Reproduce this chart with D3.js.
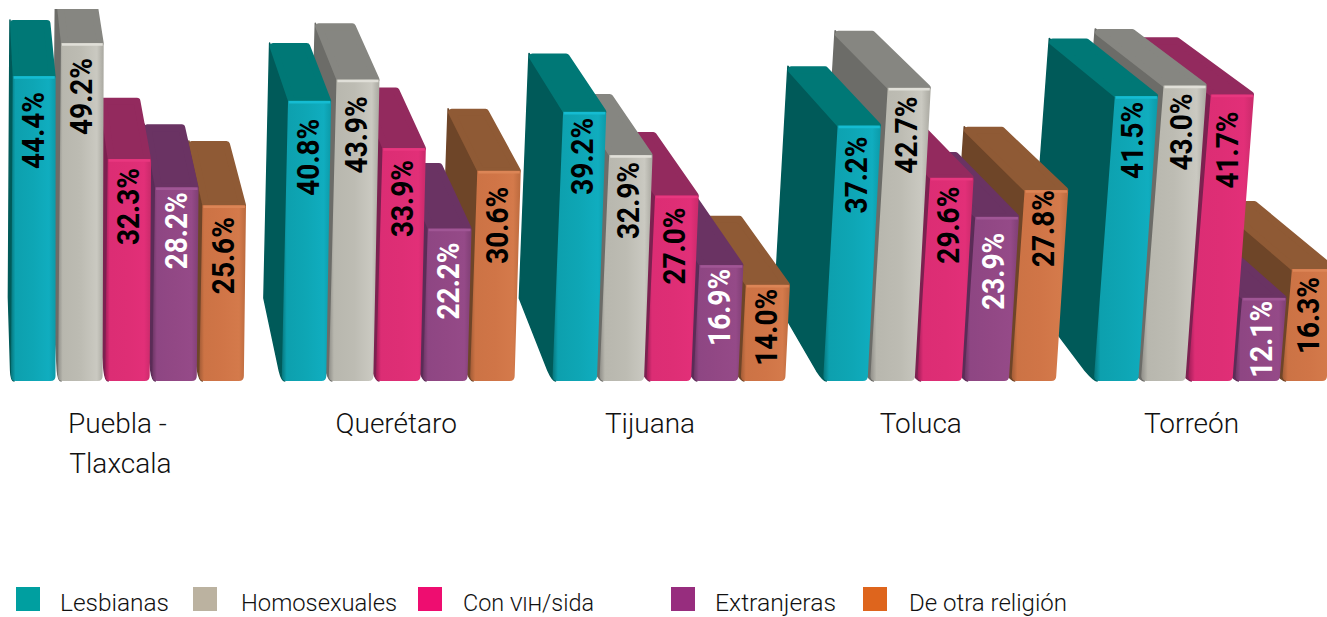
<!DOCTYPE html>
<html><head><meta charset="utf-8">
<script src="https://cdnjs.cloudflare.com/ajax/libs/d3/7.8.5/d3.min.js"></script>
<style>html,body{margin:0;padding:0;background:#fff}svg{display:block}text{font-family:Roboto,sans-serif}</style>
</head><body><svg id="c" width="1327" height="617"></svg>
<script>
// ---- data ----
const categories = ["Puebla - Tlaxcala","Querétaro","Tijuana","Toluca","Torreón"];
const series = ["Lesbianas","Homosexuales","Con vih/sida","Extranjeras","De otra religión"];
const lesbianas    = [44.4,40.8,39.2,37.2,41.5];
const homosexuales = [49.2,43.9,32.9,42.7,43.0];
const conVih       = [32.3,33.9,27.0,29.6,41.7];
const extranjeras  = [28.2,22.2,16.9,23.9,12.1];
const otraReligion = [25.6,30.6,14.0,27.8,16.3];
const seriesValues = [lesbianas,homosexuales,conVih,extranjeras,otraReligion];

// ---- styles / layout ----
const legendCols = ["#009fa0","#bbb2a0","#ee0d70","#972d7e","#de651d"];
const frontStops = [
 ["#07767c","#0da0ae","#0ea6b5","#10adbf","#0c9aa8"],
 ["#8f8e88","#b8b7ae","#bdbcb3","#cac9c1","#a9a8a0"],
 ["#a01d58","#dc2d74","#de2e75","#e22f78","#c92a6a"],
 ["#6c3564","#8e4683","#924885","#954a88","#7f3f74"],
 ["#a35c36","#cc7345","#d07547","#d47a4b","#bb6a3e"]];
const topCols  = ["#007876","#868681","#932a5e","#6a3363","#8f5a35"];
const sideCols = ["#005a59","#6c6c68","#7c2150","#5b2c57","#6e4528"];
const rimCols  = ["#15bcd2","#e0dfd8","#e8377f","#a05695","#dc8556"];
const labelCols= ["#000","#000","#000","#fff","#000"];
const labelGap = [[16,15,9,5,12],[18,17,12,14,16],[6,7,12,4,4],[11,9,9,16,0],[6,8,17,3,8]];
const catNudge = [-10,-2,-19,-19,-19];

const svg = d3.select("#c");
const defs = svg.append("defs");
defs.append("clipPath").attr("id","clip").append("rect").attr("x",0).attr("y",9).attr("width",1327).attr("height",600);
frontStops.forEach((s,i)=>{
  const g = defs.append("linearGradient").attr("id","f"+i);
  [0,.1,.5,.85,1].forEach((o,k)=>g.append("stop").attr("offset",o).attr("stop-color",s[k]));
});

const y0 = 381;
const y = d3.scaleLinear().domain([0,50]).range([y0,y0-343.5]);
const xGroup = d3.scaleBand().domain(categories).range([11,1327]).paddingInner(0.14).paddingOuter(0);
const xBar = d3.scaleBand().domain(series).range([0,xGroup.bandwidth()]).paddingInner(0.055).paddingOuter(0);

// perspective helpers
const lean = (u,py)=> u + (u-50)*(y0-py)*6.2e-5;      // front face edge at a height
const narrow = py => (y0-py)*0.008;                    // the bar narrows a little with height
const depthX = px => -2 - 0.057*px;
const depthY = py => 51.3 + 0.0625*py;
const back = (px,py)=> [px+depthX(px), py-depthY(py)];
const mix = (a,b,k)=> [a[0]+(b[0]-a[0])*k, a[1]+(b[1]-a[1])*k];

const root = svg.append("g").attr("clip-path","url(#clip)");

// painter's order: right to left
for (let c=categories.length-1;c>=0;c--){
  for (let s=series.length-1;s>=0;s--){
    const v = seriesValues[s][c];
    const u0 = xGroup(categories[c])+xBar(series[s]);
    const u1 = u0+xBar.bandwidth();
    const t = y(v);
    const fl=[lean(u0,t)+narrow(t),t], fr=[lean(u1,t),t];
    const bl=back(...fl), br=back(...fr);
    const bot=[u0,y0], bb=back(u0,y0);
    const p1=mix(bot,bb,0.14), p2=mix(bb,bl,0.03);
    const g = root.append("g");
    // side face
    g.append("path").attr("fill",sideCols[s]).attr("stroke",sideCols[s]).attr("stroke-width",1.5).attr("stroke-linejoin","round")
      .attr("d",`M${bl}L${fl}L${bot[0]+3},${y0}Q${bot[0]},${y0} ${p1}L${p2[0]},${p2[1]}Z`);
    // top face
    g.append("path").attr("fill",topCols[s]).attr("stroke",topCols[s]).attr("stroke-width",7).attr("stroke-linejoin","round")
      .attr("d",`M${bl[0]+3.5},${bl[1]+3.5}L${br[0]-3.5},${br[1]+3.5}L${fr[0]-3.5},${fr[1]}L${fl[0]+3.5},${fl[1]}Z`);
    // front face
    const r=5;
    g.append("path").attr("fill",`url(#f${s})`)
      .attr("d",`M${fl}L${fr[0]-1},${t}Q${fr[0]},${t} ${fr[0]},${t+2}L${u1},${y0-r}Q${u1},${y0} ${u1-r},${y0}L${u0+r},${y0}Q${u0},${y0} ${u0},${y0-r}Z`);
    // rim
    g.append("path").attr("fill","none").attr("stroke",rimCols[s]).attr("stroke-width",2.5)
      .attr("d",`M${fl[0]+1},${t+1.5}L${fr[0]-1},${t+1.5}`);
    // value label
    const gap = labelGap[c][s], len = 77;
    const ly = t+gap+len;
    const lx = Math.min(1308,(lean(u0,ly-len/2)+lean(u1,ly-len/2))/2);
    g.append("text").attr("transform",`translate(${lx},${ly}) rotate(-90)`)
      .attr("dy","0.36em").attr("font-size",30.5).attr("font-weight",700).attr("fill",labelCols[s])
      .attr("textLength",len).attr("lengthAdjust","spacingAndGlyphs")
      .text(v.toFixed(1)+"%");
  }
}

// category labels
categories.forEach((cat,i)=>{
  const cx = xGroup(cat)+xGroup.bandwidth()/2+catNudge[i];
  const t = svg.append("text").attr("text-anchor","middle").attr("font-size",28).attr("font-weight",300).attr("fill","#111");
  if (cat==="Puebla - Tlaxcala"){
    t.append("tspan").attr("x",cx).attr("y",433).text("Puebla -");
    t.append("tspan").attr("x",cx+3).attr("y",473).text("Tlaxcala");
  } else t.attr("x",cx).attr("y",433).text(cat);
});

// legend
const legX = [16,193,418,671,863];
const legTX= [60,241,463,715,909];
const legW = [109,156,131,121,158];
series.forEach((n,i)=>{
  svg.append("rect").attr("x",legX[i]).attr("y",587).attr("width",24).attr("height",24).attr("fill",legendCols[i]);
  const t = svg.append("text").attr("x",legTX[i]).attr("y",611).attr("font-size",24).attr("font-weight",300).attr("fill","#111")
    .attr("textLength",legW[i]).attr("lengthAdjust","spacingAndGlyphs");
  if (n.includes("vih")){
    t.append("tspan").text("Con ");
    t.append("tspan").style("font-variant-caps","small-caps").text("vih");
    t.append("tspan").text("/sida");
  } else t.text(n);
});
</script></body></html>
